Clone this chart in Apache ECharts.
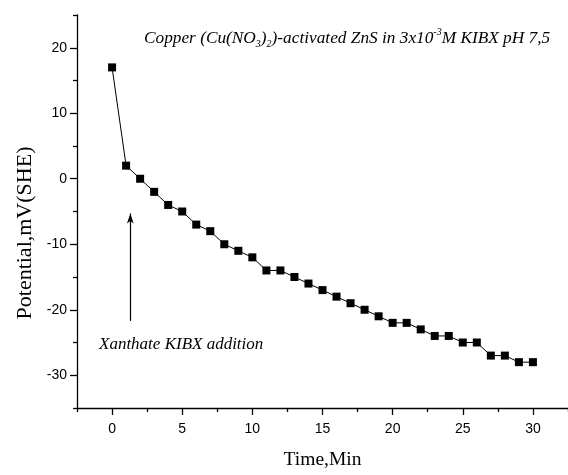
<!DOCTYPE html>
<html>
<head>
<meta charset="utf-8">
<script src="https://cdn.jsdelivr.net/npm/echarts@6/dist/echarts.min.js"></script>
<style>
  html, body { margin: 0; padding: 0; background: #fff; }
  #chart { width: 568px; height: 475px; }
</style>
</head>
<body>
<div id="chart"></div>
<script>
// Electrode potential of Cu-activated ZnS after xanthate addition
const times = [0, 1, 2, 3, 4, 5, 6, 7, 8, 9, 10, 11, 12, 13, 14, 15,
               16, 17, 18, 19, 20, 21, 22, 23, 24, 25, 26, 27, 28, 29, 30];
const potentials = [17, 2, 0, -2, -4, -5, -7, -8, -10, -11, -12, -14, -14, -15, -16, -17,
                    -18, -19, -20, -21, -22, -22, -23, -24, -24, -25, -25, -27, -27, -28, -28];

const xMajorTicks = [0, 5, 10, 15, 20, 25, 30];
const xMinorTicks = [-2.5, 2.5, 7.5, 12.5, 17.5, 22.5, 27.5, 32.5];
const yMajorTicks = [-30, -20, -10, 0, 10, 20];
const yMinorTicks = [-35, -25, -15, -5, 5, 15, 25];

// Arrow marking the moment KIBX was added: [time, potential] start and end
const arrowFrom = [1.3, -21.7];
const arrowTo = [1.3, -5.3];

const sansFont = '"Liberation Sans", Arial, sans-serif';
const serifFont = '"Liberation Serif", "Times New Roman", serif';

const X_RANGE = { min: -2.5, max: 32.5 };
const Y_RANGE = { min: -35, max: 25 };

const chart = echarts.init(document.getElementById('chart'), null, { renderer: 'canvas' });

// An axis that only draws tick marks at the given values
function tickAxis(range, position, values, length) {
  return {
    type: 'value',
    min: range.min,
    max: range.max,
    position: position,
    splitLine: { show: false },
    axisLine: { show: false, onZero: false },
    axisLabel: { show: false },
    axisTick: { show: true, inside: false, length: length, customValues: values,
                lineStyle: { color: '#000', width: 1.3 } }
  };
}

chart.setOption({
  animation: false,
  backgroundColor: '#ffffff',
  grid: { left: 77, top: 15, width: 497, height: 400, containLabel: false },
  xAxis: [
    {
      type: 'value',
      min: X_RANGE.min, max: X_RANGE.max,
      position: 'bottom',
      name: 'Time,Min',
      nameLocation: 'middle',
      nameGap: 42,
      nameTextStyle: { fontFamily: serifFont, fontSize: 19.5, color: '#000' },
      splitLine: { show: false },
      axisLine: { show: true, onZero: false, lineStyle: { color: '#000', width: 1.3 } },
      axisTick: { show: false },
      axisLabel: { show: true, customValues: xMajorTicks, margin: 14,
                   fontFamily: sansFont, fontSize: 14, color: '#000' }
    },
    tickAxis(X_RANGE, 'bottom', xMajorTicks, 7),
    tickAxis(X_RANGE, 'bottom', xMinorTicks, 4)
  ],
  yAxis: [
    {
      type: 'value',
      min: Y_RANGE.min, max: Y_RANGE.max,
      position: 'left',
      splitLine: { show: false },
      axisLine: { show: true, onZero: false, lineStyle: { color: '#000', width: 1.3 } },
      axisTick: { show: false },
      axisLabel: { show: true, customValues: yMajorTicks, margin: 10,
                   fontFamily: sansFont, fontSize: 14, color: '#000' }
    },
    tickAxis(Y_RANGE, 'left', yMajorTicks, 7),
    tickAxis(Y_RANGE, 'left', yMinorTicks, 4)
  ],
  series: [{
    type: 'line',
    xAxisIndex: 0,
    yAxisIndex: 0,
    data: times.map((t, i) => [t, potentials[i]]),
    symbol: 'rect',
    symbolSize: 8,
    showSymbol: true,
    lineStyle: { color: '#000', width: 1 },
    itemStyle: { color: '#000' },
    markLine: {
      silent: true,
      symbol: ['none', 'arrow'],
      symbolSize: [5, 10],
      label: { show: false },
      lineStyle: { color: '#000', width: 1.2, type: 'solid' },
      data: [[{ coord: arrowFrom }, { coord: arrowTo }]]
    }
  }],
  graphic: [
    {
      type: 'text',
      left: 144,
      top: 27,
      style: {
        text: '{i|Copper (Cu(NO}{sub|3}{i|)}{sub|2}{i|)-activated ZnS in 3x10}{sup|-3}{i|M KIBX pH 7,5}',
        rich: {
          i: { fontFamily: serifFont, fontStyle: 'italic', fontSize: 17.3, fill: '#000', lineHeight: 22 },
          sub: { fontFamily: serifFont, fontStyle: 'italic', fontSize: 10, fill: '#000',
                 lineHeight: 22, verticalAlign: 'bottom' },
          sup: { fontFamily: serifFont, fontStyle: 'italic', fontSize: 10, fill: '#000',
                 lineHeight: 22, verticalAlign: 'top' }
        }
      }
    },
    {
      type: 'text',
      left: 99,
      top: 336,
      style: {
        text: 'Xanthate KIBX addition',
        fontFamily: serifFont,
        fontStyle: 'italic',
        fontSize: 17,
        fill: '#000'
      }
    },
    {
      type: 'text',
      x: 25,
      y: 233,
      rotation: Math.PI / 2,
      style: {
        text: 'Potential,mV(SHE)',
        fontFamily: serifFont,
        fontSize: 22,
        fill: '#000',
        align: 'center',
        verticalAlign: 'middle'
      }
    }
  ]
});
</script>
</body>
</html>
